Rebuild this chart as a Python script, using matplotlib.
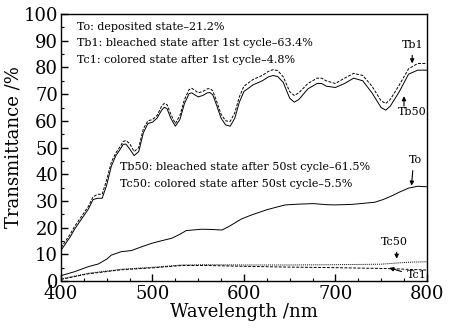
import matplotlib
matplotlib.use('Agg')
import matplotlib.pyplot as plt

plt.rcParams['font.family'] = 'DejaVu Serif'

# bleached curves (Tb1 dashed, Tb50 solid)
wl_b = [400, 405, 410, 415, 420, 425, 430, 435, 440, 445, 450, 455, 460, 465, 468, 471,
        475, 480, 485, 490, 495, 500, 505, 510, 513, 516, 520, 525, 530, 535, 540, 543, 546,
        550, 555, 560, 563, 566, 570, 575, 580, 585, 590, 595, 600, 610, 620, 627, 632, 637, 643,
        650, 655, 660, 670, 680, 685, 690, 700, 710, 720, 730, 740, 750, 755, 760,
        770, 780, 790, 800]
tb1 = [12.5, 15, 17.5, 20.5, 23, 25.5, 28, 31.5, 32.5, 32.5, 38, 44.5, 48, 50.5, 52.3, 52.6,
       51.5, 48.5, 50, 57, 60, 60.5, 62, 65.5, 66.6, 66, 62.5, 59, 62, 68, 71.7, 72.2, 71.5,
       70.5, 71, 72, 72.1, 71.2, 67.5, 62.5, 60, 59.8, 63, 69, 73, 75.5, 77, 78.6, 79.2, 78.8, 76.5,
       71, 69.5, 70.5, 74, 76, 76, 75, 74, 76, 77.8, 77, 73, 67.5, 66.5, 68,
       73.5, 79.5, 81.5, 81.5]
tb50 = [11.5, 14, 16.5, 19.5, 22, 24.5, 27, 30.5, 31, 31, 36, 43, 47, 49.5, 51.2, 51.3,
        49.5, 47, 48.5, 55.5, 59, 59.5, 61, 64, 65.1, 64.5, 61, 58, 60.5, 66.5, 70.2, 70.5, 69.8,
        69, 69.5, 70.5, 70.6, 69.7, 66, 61, 58.5, 58, 61, 67, 71, 73.5, 75, 76.5, 77, 76.6, 74.4,
        68.5, 67, 68, 72, 74, 74, 73, 72.5, 74, 76, 75, 70.5, 65, 64, 65.5,
        71, 77.5, 79, 79]

# deposited state
wl_o = [400, 415, 430, 441, 450, 455, 466, 477, 488, 499, 510, 521, 530, 537, 554,
        565, 576, 584, 597, 608, 626, 645, 660, 676, 690, 699, 718, 743, 752, 761,
        770, 780, 790, 800]
to = [2, 3.5, 5.4, 6.4, 8.2, 9.7, 11, 11.4, 12.8, 14.1, 15.1, 16, 17.5, 18.9, 19.4,
      19.3, 19.1, 20.5, 23.2, 24.7, 26.8, 28.5, 28.8, 29, 28.6, 28.5, 28.7, 29.5, 30.5, 31.8,
      33.3, 34.8, 35.5, 35.3]

# colored curves
wl_c = [400, 430, 466, 503, 532, 560, 600, 650, 700, 750, 770, 785, 800]
tc50 = [0.8, 2.9, 4.4, 5.2, 6.0, 6.1, 6.0, 6.0, 6.1, 6.3, 6.8, 7.1, 7.2]
tc1 = [0.6, 2.7, 4.2, 5.0, 5.8, 5.8, 5.5, 5.2, 5.0, 4.7, 4.5, 4.3, 4.1]

legend_top = ['To: deposited state\u201321.2%',
              'Tb1: bleached state after 1st cycle\u201363.4%',
              'Tc1: colored state after 1st cycle\u20134.8%']
legend_mid = ['Tb50: bleached state after 50st cycle\u201361.5%',
              'Tc50: colored state after 50st cycle\u20135.5%']

fig = plt.figure(figsize=(4.57, 3.28), dpi=100)
ax = fig.add_axes([0.1335, 0.1433, 0.8005, 0.8137])

ax.plot(wl_b, tb1, color='black', lw=0.7, ls=(0, (3, 1.5)))
ax.plot(wl_b, tb50, color='black', lw=0.7)
ax.plot(wl_o, to, color='black', lw=0.7)
ax.plot(wl_c, tc50, color='black', lw=0.7, ls=(0, (1, 1)))
ax.plot(wl_c, tc1, color='black', lw=0.7, ls=(0, (3, 1.5)))

ax.set_xlim(400, 800)
ax.set_ylim(0, 100)
ax.set_xticks(range(400, 801, 100))
ax.set_xticks(range(400, 801, 25), minor=True)
ax.set_yticks(range(0, 101, 10))
ax.set_yticks(range(0, 101, 5), minor=True)
ax.tick_params(which='both', direction='in', top=False, right=False, labelsize=13, pad=2)
ax.tick_params(axis='x', which='major', pad=3)
ax.tick_params(which='major', length=5, width=1)
ax.tick_params(which='minor', length=2.5, width=0.8)
for s in ax.spines.values():
    s.set_linewidth(1)

ax.set_xlabel('Wavelength /nm', fontsize=13, labelpad=0)
ax.set_ylabel('Transmittance /%', fontsize=13, labelpad=1)

for i, t in enumerate(legend_top):
    ax.text(418, 95.2 - i * 6.2, t, fontsize=8, va='center')
for i, t in enumerate(legend_mid):
    ax.text(464, 42.6 - i * 6.3, t, fontsize=8, va='center')

ap = dict(arrowstyle='-|>', color='black', lw=0.8, mutation_scale=6)
ax.annotate('Tb1', xy=(784, 80.5), xytext=(784, 88.5), fontsize=8, ha='center', va='center',
            arrowprops=ap)
ax.annotate('', xy=(775, 70.3), xytext=(775, 64.5), arrowprops=ap)
ax.text(784, 63.4, 'Tb50', fontsize=8, ha='center', va='center')
ax.annotate('To', xy=(783, 34.7), xytext=(788, 45.3), fontsize=8, ha='center', va='center',
            arrowprops=dict(ap, relpos=(0.3, 0)))
ax.annotate('Tc50', xy=(767, 7.3), xytext=(764, 14.7), fontsize=8, ha='center', va='center',
            arrowprops=dict(ap, relpos=(0.6, 0)))
ax.annotate('Tc1', xy=(756, 5.2), xytext=(789, 2.2), fontsize=8, ha='center', va='center',
            arrowprops=dict(ap, relpos=(0, 0.7)))

fig.savefig('out.png', dpi=100)
